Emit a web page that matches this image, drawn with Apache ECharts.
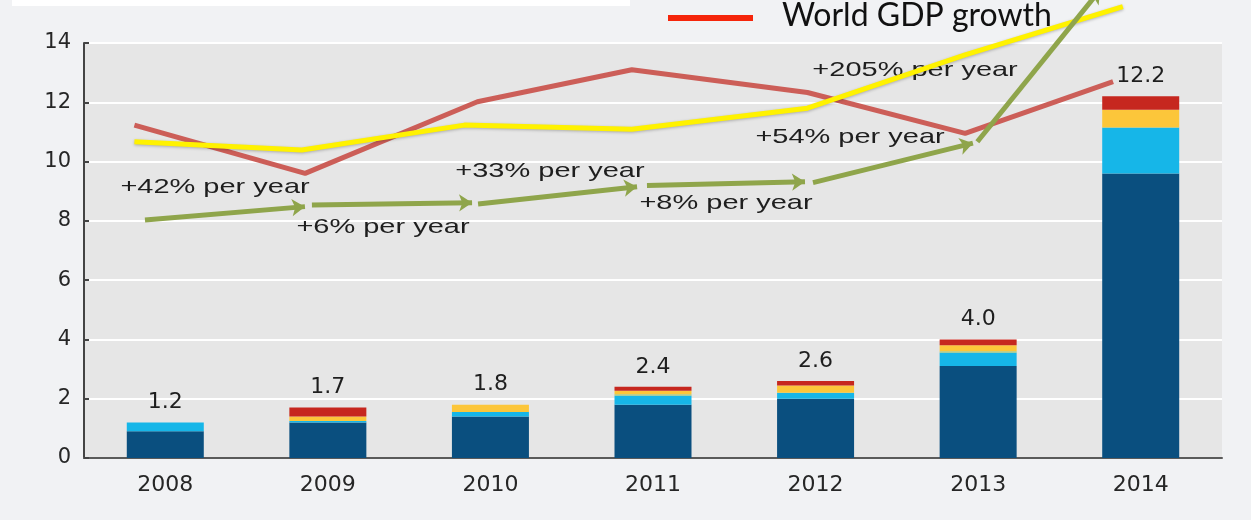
<!DOCTYPE html>
<html>
<head>
<meta charset="utf-8">
<script src="https://cdn.jsdelivr.net/npm/echarts@6/dist/echarts.min.js"></script>
<style>
html,body{margin:0;padding:0;background:#f1f2f4;}
#c{width:1251px;height:520px;}
</style>
</head>
<body>
<div id="c"></div>
<script>
// ---- data ----
const categories = ['2008', '2009', '2010', '2011', '2012', '2013', '2014'];
const darkBlue  = [0.9, 1.2, 1.4, 1.8, 2.0, 3.1, 9.6];
const lightBlue = [0.3, 0.05, 0.15, 0.3, 0.2, 0.45, 1.55];
const greenPart = [0, 0, 0, 0.05, 0, 0.05, 0];
const yellowPart= [0, 0.15, 0.25, 0.12, 0.25, 0.2, 0.6];
const redPart   = [0, 0.3, 0, 0.13, 0.15, 0.2, 0.45];
const totals    = [1.2, 1.7, 1.8, 2.4, 2.6, 4.0, 12.2];

// lines (x in category-index units)
const redX    = [-0.19, 0.86, 1.92, 2.87, 3.95, 4.92, 5.83];
const redY    = [11.23, 9.6, 12.02, 13.1, 12.33, 10.95, 12.7];
const yellowX = [-0.19, 0.84, 1.84, 2.87, 3.95, 4.92, 5.89];
const yellowY = [10.67, 10.39, 11.23, 11.09, 11.8, 13.6, 15.23];

// green growth arrows
const greenFromX = [-0.125, 0.902, 1.924, 2.963, 3.984, 4.995];
const greenFromY = [8.03, 8.535, 8.57, 9.19, 9.29, 10.67];
const greenToX   = [0.859, 1.887, 2.902, 3.935, 4.968, 5.75];
const greenToY   = [8.48, 8.61, 9.15, 9.32, 10.62, 15.79];

// annotations
const annoText = ['+42% per year', '+6% per year', '+33% per year', '+8% per year', '+54% per year', '+205% per year'];
const annoX = [0.306, 1.339, 2.366, 3.449, 4.212, 4.612];
const annoY = [9.15, 7.79, 9.66, 8.60, 10.83, 13.09];

const yTicks = [0, 2, 4, 6, 8, 10, 12, 14];

// ---- chart ----
const chart = echarts.init(document.getElementById('c'));
const barColors = ['#0a4f7f', '#16b6e8', '#9cc98a', '#fcc63a', '#c6271f'];
const barData = [darkBlue, lightBlue, greenPart, yellowPart, redPart];

const series = barData.map((d, i) => ({
  type: 'bar', stack: 'total', xAxisIndex: 0, yAxisIndex: 0,
  barWidth: 77, data: d, itemStyle: {color: barColors[i]}, z: 2
}));

// zero-height cap on each stack carrying the total label
series.push({
  type: 'bar', stack: 'total', xAxisIndex: 0, yAxisIndex: 0, barWidth: 77,
  data: totals.map(() => 0), itemStyle: {color: '#e6e6e6'},
  label: {show: true, position: 'top', distance: 9,
    formatter: p => totals[p.dataIndex].toFixed(1),
    fontFamily: 'DejaVu Sans', fontSize: 22, color: '#1e1e1e'},
  z: 3
});

series.push({
  type: 'line', xAxisIndex: 1, yAxisIndex: 0,
  data: redX.map((x, i) => [x, redY[i]]), symbol: 'none', clip: false,
  lineStyle: {color: '#cc5e58', width: 5}, z: 4
});
series.push({
  type: 'line', xAxisIndex: 1, yAxisIndex: 0,
  data: yellowX.map((x, i) => [x, yellowY[i]]), symbol: 'none', clip: false,
  lineStyle: {color: '#fff200', width: 5, shadowColor: 'rgba(0,0,0,0.25)', shadowBlur: 3, shadowOffsetY: 1}, z: 5
});
series.push({
  type: 'lines', coordinateSystem: 'cartesian2d', xAxisIndex: 1, yAxisIndex: 0,
  clip: false, symbol: ['none', 'arrow'], symbolSize: 13,
  lineStyle: {color: '#8fa54b', width: 5, opacity: 1, curveness: 0},
  data: greenFromX.map((x, i) => ({coords: [[x, greenFromY[i]], [greenToX[i], greenToY[i]]]})),
  z: 6
});

chart.setOption({
  animation: false,
  backgroundColor: '#f1f2f4',
  grid: {left: 84, right: 29, top: 43, bottom: 62, show: true, backgroundColor: '#e6e6e6', borderWidth: 0},
  xAxis: [
    {type: 'category', data: categories,
     axisLine: {lineStyle: {color: '#5a5a5a', width: 2}}, axisTick: {show: false},
     axisLabel: {fontFamily: 'DejaVu Sans', fontSize: 22, color: '#262626', margin: 16}},
    {type: 'value', min: -0.5, max: 6.5, show: false}
  ],
  yAxis: {type: 'value', min: yTicks[0], max: yTicks[yTicks.length - 1], interval: 2,
    axisLine: {show: true, onZero: false, lineStyle: {color: '#444', width: 2}},
    axisTick: {show: true, inside: true, length: 5, lineStyle: {color: '#444', width: 2}},
    splitLine: {lineStyle: {color: '#ffffff', width: 2}},
    axisLabel: {fontFamily: 'DejaVu Sans', fontSize: 21, color: '#262626', margin: 13}},
  series: series
});

const lineIdx = barData.length + 1;
const graphics = annoText.map((t, i) => {
  const p = chart.convertToPixel({seriesIndex: lineIdx}, [annoX[i], annoY[i]]);
  return {type: 'text', x: p[0], y: p[1], scaleX: 1.38, z: 1,
    style: {text: t, font: '21px "Liberation Sans"', fill: '#1e1e1e', align: 'center', verticalAlign: 'middle'}};
});
graphics.push({type: 'rect', shape: {x: 12, y: 0, width: 618, height: 6}, style: {fill: '#ffffff'}, z: 1});
graphics.push({type: 'line', shape: {x1: 668, y1: 18, x2: 753, y2: 18}, style: {stroke: '#f5250a', lineWidth: 6}, z: 10});
graphics.push({type: 'text', x: 782, y: 16, z: 10,
  style: {text: 'World GDP growth', font: '32px Lato', fill: '#111', align: 'left', verticalAlign: 'middle'}});

chart.setOption({graphic: graphics});
</script>
</body>
</html>
